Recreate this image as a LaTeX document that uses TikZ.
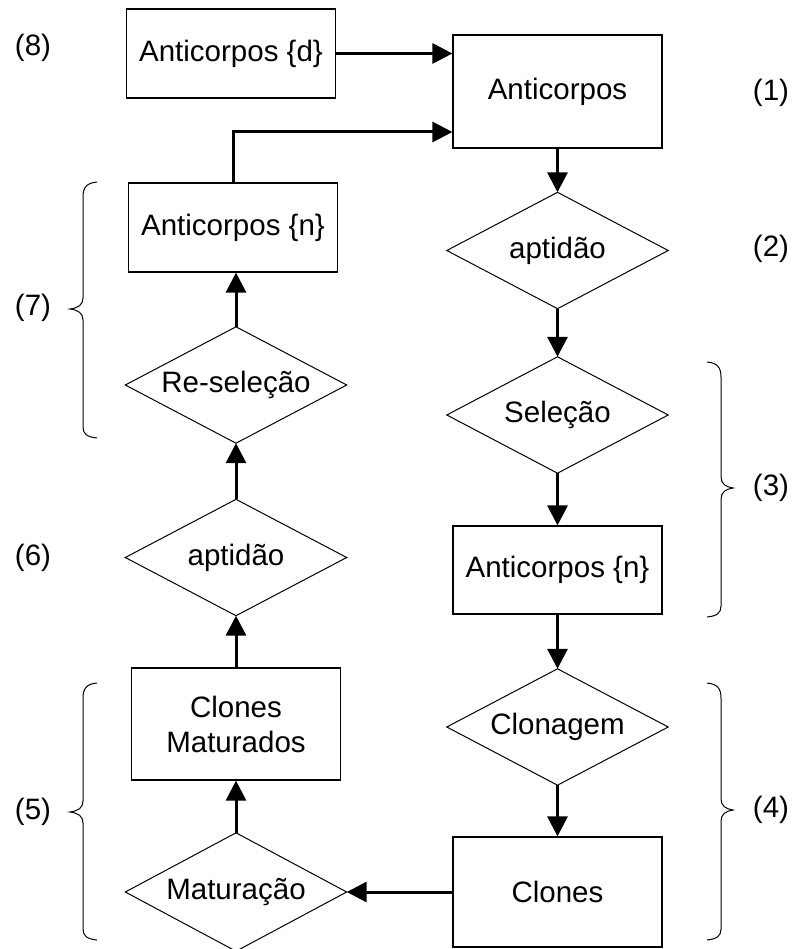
\documentclass[tikz,border=0pt]{standalone}
\usepackage{fontspec}
\setmainfont{Liberation Sans}
\usetikzlibrary{arrows.meta}
\begin{document}
\begin{tikzpicture}[x=1pt,y=-1pt,
  txt/.style={font=\fontsize{29.5}{35}\selectfont},
  box/.style={txt, draw, line width=1.2pt, minimum width=209pt, inner sep=0pt, align=center},
  dia/.style={txt, rectangle, minimum width=221pt, minimum height=116pt, inner sep=0pt},
  diaedge/.style={line width=1pt, line join=miter},
  arr/.style={line width=3pt, -{Triangle[length=20pt,width=20pt]}},
  brc/.style={line width=1pt}
]
\fill[white] (0,0) rectangle (794,949);
\useasboundingbox (0,0) rectangle (794,949);

% right column
\node[box, minimum height=113pt] (A) at (557.5,91.5) {Anticorpos};
\node[dia] (aptR) at (557.5,250.5) {aptidão};
\node[dia] (sel) at (557.5,415) {Seleção};
\node[box, minimum height=88pt] (nR) at (557.5,570) {Anticorpos \{n\}};
\node[dia] (clon) at (557.5,727) {Clonagem};
\node[box, minimum height=110pt] (clones) at (557.5,892) {Clones};

% left column
\node[box, minimum height=89pt] (d) at (231,53.5) {Anticorpos \{d\}};
\node[box, minimum height=89pt] (nL) at (233,227.5) {Anticorpos \{n\}};
\node[dia] (resel) at (236,385) {Re-seleção};
\node[dia] (aptL) at (236,557.5) {aptidão};
\node[box, minimum height=112pt] (CM) at (236,724) {Clones\\Maturados};
\node[dia, minimum height=118pt] (mat) at (236,892) {Maturação};

% diamond outlines
\foreach \n in {aptR,sel,clon,resel,aptL,mat}
  \draw[diaedge] (\n.north) -- (\n.east) -- (\n.south) -- (\n.west) -- cycle;

% labels
\node[txt] (l8) at (33,48) {(8)};
\node[txt] (l7) at (33,308) {(7)};
\node[txt] (l6) at (33,558) {(6)};
\node[txt] (l5) at (33,812) {(5)};
\node[txt] (l1) at (771,93) {(1)};
\node[txt] (l2) at (771,249) {(2)};
\node[txt] (l3) at (771,488) {(3)};
\node[txt] (l4) at (771,810) {(4)};

% connectors
\draw[arr] (d.east) -- (d.east -| A.west);
\draw[arr] (nL.north) |- ([yshift=-40.5pt]A.west);
\draw[arr] (A.south) -- (aptR.north);
\draw[arr] (aptR.south) -- (sel.north);
\draw[arr] (sel.south) -- (nR.north);
\draw[arr] (nR.south) -- (clon.north);
\draw[arr] (clon.south) -- (clones.north);
\draw[arr] (clones.west) -- (mat.east);
\draw[arr] (mat.north) -- (CM.south);
\draw[arr] (CM.north) -- (aptL.south);
\draw[arr] (aptL.north) -- (resel.south);
\draw[arr] (resel.north) -- (resel.north |- nL.south);

% braces left
\draw[brc] (97,182) .. controls (87,183) and (83,187) .. (83,197) -- (83,298)
  .. controls (83,305) and (78,308) .. (70,309) .. controls (78,310) and (83,313) .. (83,320)
  -- (83,427) .. controls (83,434) and (87,437) .. (97,438);
\draw[brc] (97,683) .. controls (87,684) and (83,688) .. (83,698) -- (83,801)
  .. controls (83,808) and (78,811) .. (70,812) .. controls (78,813) and (83,816) .. (83,823)
  -- (83,929) .. controls (83,936) and (87,939) .. (97,940);
% braces right
\draw[brc] (707,362) .. controls (717,363) and (721,367) .. (721,377) -- (721,477)
  .. controls (721,484) and (726,487) .. (733,488) .. controls (726,489) and (721,492) .. (721,499)
  -- (721,606) .. controls (721,613) and (717,616) .. (707,617);
\draw[brc] (707,683) .. controls (717,684) and (721,688) .. (721,698) -- (721,799)
  .. controls (721,806) and (726,809) .. (733,810) .. controls (726,811) and (721,814) .. (721,821)
  -- (721,929) .. controls (721,936) and (717,939) .. (707,940);
\end{tikzpicture}
\end{document}
